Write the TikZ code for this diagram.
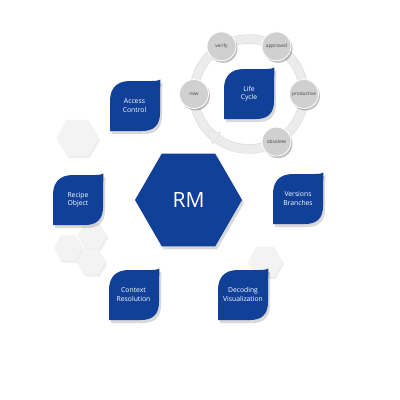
\documentclass[tikz,border=0pt]{standalone}
\usepackage{fontspec}
\setmainfont{Open Sans}
\usetikzlibrary{shapes.geometric,shadows,calc}
\definecolor{rmblue}{RGB}{17,64,152}
\definecolor{hexgray}{RGB}{243,243,243}
\definecolor{ringgray}{RGB}{236,236,236}
\definecolor{ringedge}{RGB}{224,224,224}
\definecolor{stepgray}{RGB}{208,208,208}
\definecolor{steptext}{RGB}{70,70,70}
\newcommand{\rmleaf}[2]{%
  \fill[leafbox] (#1,#2+50) -- (#1,#2+20) .. controls (#1,#2+7) and (#1+7,#2) .. (#1+20,#2)
    -- (#1+42,#2) .. controls (#1+46,#2) and (#1+49,#2-0.5) .. (#1+50.5,#2-1.5)
    .. controls (#1+50,#2+10) and (#1+50,#2+24) .. (#1+50,#2+32)
    .. controls (#1+50,#2+44) and (#1+44,#2+50) .. (#1+32,#2+50) -- cycle;}
\tikzset{
  x=1pt, y=-1pt,
  softshadow/.style={drop shadow={shadow xshift=2pt, shadow yshift=-3pt, opacity=0.15, fill=black}},
  leafbox/.style={fill=rmblue, softshadow},
  leaftext/.style={text=white, font=\fontsize{6.8}{8.3}\selectfont, align=center, inner sep=0pt},
  lighthex/.style={regular polygon, regular polygon sides=6, fill=hexgray, inner sep=0pt,
    drop shadow={shadow xshift=1.5pt, shadow yshift=-2pt, opacity=0.07, fill=black}},
  rmhex/.style={regular polygon, regular polygon sides=6, fill=rmblue, inner sep=0pt,
    minimum size=107pt, text=white, font=\fontsize{21}{24}\selectfont, softshadow},
  stepcirc/.style={circle, minimum size=29pt, inner sep=0pt, fill=stepgray, draw=white,
    line width=0.8pt, text=steptext, font=\fontsize{4.8}{5.2}\selectfont,
    drop shadow={shadow xshift=1.5pt, shadow yshift=-2pt, opacity=0.25, fill=black}},
}
\begin{document}
\begin{tikzpicture}
\useasboundingbox[fill=white] (0,0) rectangle (400,400);
% light hexagons
\node[lighthex, minimum size=42pt] (h1) at (77.5,138) {};
\node[lighthex, minimum size=29pt] (h2) at (92,236) {};
\node[lighthex, minimum size=29pt] (h3) at (68,248) {};
\node[lighthex, minimum size=29pt] (h4) at (91,262) {};
\node[lighthex, minimum size=35pt] (h5) at (265,262) {};
% blue leaf boxes
\rmleaf{110}{81}
\node[leaftext] (access) at (134.5,105.5) {Access\\Control};
\rmleaf{53}{175}
\node[leaftext] (recipe) at (78,199.5) {Recipe\\Object};
\rmleaf{273}{174}
\node[leaftext] (versions) at (298,198.5) {Versions\\Branches};
\rmleaf{109}{270}
\node[leaftext] (context) at (133.5,294.5) {Context\\Resolution};
\rmleaf{218}{270}
\node[leaftext] (decoding) at (243,294.5) {Decoding\\Visualization};
% central hexagon
\node[rmhex] (rm) at (188.5,200) {RM};
% life cycle ring
\coordinate (lc) at (249,94);
\draw[ringedge, line width=9.5pt] (lc) circle (55);
\draw[ringgray, line width=8pt] (lc) circle (55);
\fill[ringgray, draw=ringedge, line width=0.5pt]
  ($(lc)+(126:48)$) -- ($(lc)+(139:55)$) -- ($(lc)+(126:62)$) -- cycle;
\node[stepcirc] (new) at ($(lc)+(180:55)$) {new};
\node[stepcirc] (verify) at ($(lc)+(240:55)$) {verify};
\node[stepcirc] (approved) at ($(lc)+(300:55)$) {approved};
\node[stepcirc] (productive) at ($(lc)+(0:55)$) {productive};
\node[stepcirc] (obsolete) at ($(lc)+(60:55)$) {obsolete};
\rmleaf{224}{69}
\node[leaftext] (life) at (249,94) {Life\\Cycle};
\end{tikzpicture}
\end{document}
